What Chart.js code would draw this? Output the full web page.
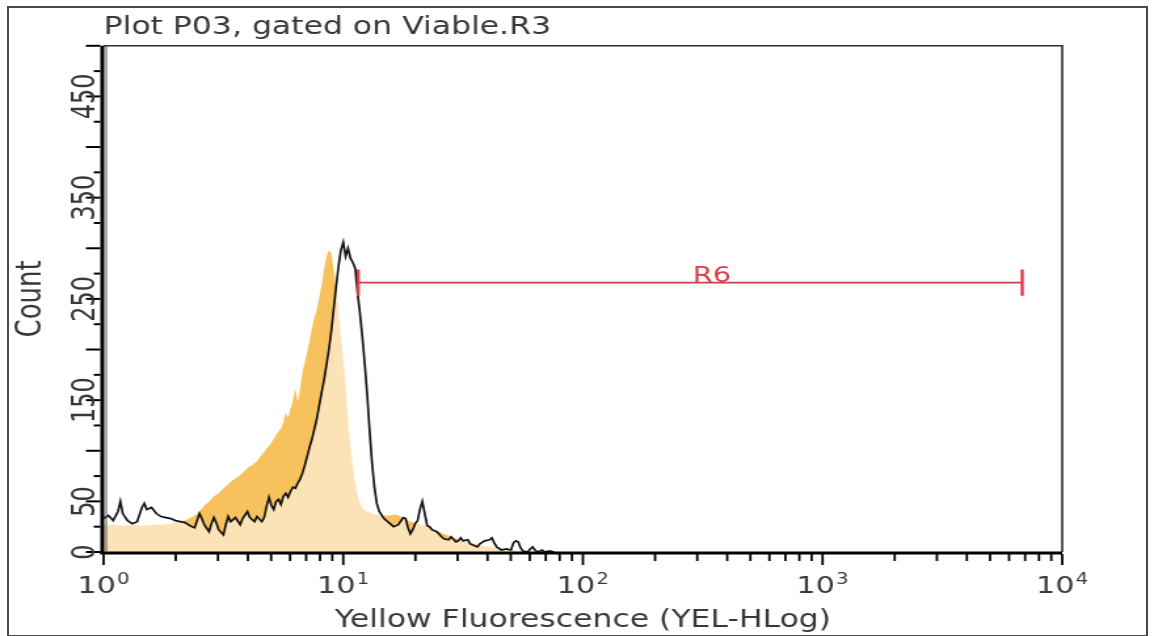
<!DOCTYPE html>
<html lang="en">
<head>
<meta charset="UTF-8">
<title>Plot P03, gated on Viable.R3</title>
<script src="https://cdn.jsdelivr.net/npm/chart.js"></script>
<style>
  body { margin: 0; background: #fff; }
  #wrap { position: relative; width: 1154px; height: 636px; overflow: hidden; }
  #histo { position: absolute; left: 0; top: 0; }
  #frame { position: absolute; left: 7px; top: 6px; width: 1137px; height: 627px; border: 2px solid #4a4a4a; pointer-events: none; }
</style>
</head>
<body>
<div id="wrap">
  <!-- drawn at 880 wide, shown at 1154 (the plot is stretched sideways) -->
  <canvas id="histo" width="880" height="636" style="width:1154px;height:636px"></canvas>
  <div id="frame"></div>
</div>
<script>
// stained sample (black outline)
const fluorSample = [1.000, 1.047, 1.096, 1.148, 1.175, 1.202, 1.259, 1.318, 1.380, 1.445, 1.479, 1.514,
  1.585, 1.660, 1.738, 1.820, 1.905, 1.995, 2.089, 2.188, 2.291, 2.399, 2.455, 2.512, 2.570, 2.630,
  2.754, 2.818, 2.884, 2.951, 3.020, 3.162, 3.236, 3.311, 3.388, 3.548, 3.715, 3.802, 3.981, 4.074,
  4.266, 4.365, 4.571, 4.677, 4.786, 4.898, 5.012, 5.129, 5.248, 5.370, 5.495, 5.623, 5.754, 5.888,
  6.026, 6.166, 6.310, 6.457, 6.607, 6.761, 6.918, 7.079, 7.244, 7.413, 7.586, 7.762, 7.943, 8.128,
  8.318, 8.511, 8.710, 8.913, 9.120, 9.333, 9.550, 9.772, 10.00, 10.23, 10.47, 10.72, 10.96, 11.22,
  11.48, 11.75, 12.02, 12.30, 12.59, 12.88, 13.18, 13.49, 13.80, 14.13, 14.79, 15.49, 16.22, 16.98,
  17.78, 18.20, 18.62, 19.05, 19.50, 19.95, 20.42, 20.89, 21.38, 21.88, 22.39, 22.91, 23.44, 24.55,
  25.70, 26.30, 27.54, 28.18, 29.51, 30.20, 30.90, 31.62, 33.11, 33.88, 35.48, 36.31, 37.15, 38.90,
  40.74, 41.69, 42.66, 43.65, 45.71, 47.86, 50.12, 51.29, 52.48, 53.70, 54.95, 56.23, 58.88, 60.26,
  61.66, 63.10, 64.57, 67.61, 69.18, 72.44, 75.86];
const countSample = [33, 36, 31, 40, 50, 38, 31, 28, 30, 44, 48, 42,
  44, 38, 35, 34, 33, 31, 30, 29, 26, 24, 31, 38, 33, 27,
  20, 28, 34, 29, 22, 17, 27, 35, 30, 34, 27, 33, 40, 34,
  30, 35, 30, 34, 45, 54, 46, 42, 50, 52, 47, 55, 58, 54,
  60, 64, 63, 68, 72, 78, 86, 95, 104, 112, 122, 132, 145, 158,
  170, 185, 200, 218, 240, 262, 282, 298, 306, 292, 300, 290, 286, 280,
  255, 235, 212, 185, 155, 120, 88, 64, 48, 40, 33, 29, 25, 27,
  34, 33, 24, 18, 22, 28, 31, 42, 50, 38, 26, 25, 22, 20,
  15, 13, 12, 15, 10, 11, 14, 11, 12, 8, 6, 5, 8, 11,
  12, 14, 9, 5, 2, 3, 2, 9, 11, 10, 4, 1, 0, 3,
  5, 2, 0, 2, 0, 1, 0];

// unstained control (orange fill)
const fluorControl = [1.000, 1.096, 1.202, 1.318, 1.445, 1.585, 1.738, 1.905, 2.089, 2.239, 2.399, 2.512,
  2.630, 2.754, 2.884, 3.020, 3.162, 3.311, 3.467, 3.631, 3.802, 3.981, 4.169, 4.365, 4.571, 4.786,
  5.012, 5.248, 5.495, 5.623, 5.754, 5.888, 6.026, 6.166, 6.310, 6.457, 6.607, 6.761, 6.918, 7.079,
  7.244, 7.413, 7.586, 7.762, 7.943, 8.128, 8.318, 8.511, 8.710, 8.913, 9.120, 9.333, 9.550, 9.772,
  10.00, 10.23, 10.47, 10.72, 10.96, 11.22, 11.48, 11.75, 12.02, 12.59, 13.49, 14.45, 15.49, 16.60,
  17.38, 18.20, 19.05, 20.42, 21.88, 23.44, 25.12, 26.92, 28.84, 30.90, 33.11, 35.48, 38.02, 40.74,
  43.65, 46.77, 50.12, 54.95, 60.26];
const countControl = [26, 27, 26, 27, 26, 27, 27, 28, 30, 32, 36, 40,
  46, 50, 55, 58, 63, 67, 71, 74, 78, 83, 86, 90, 96, 102,
  108, 116, 122, 128, 138, 132, 142, 150, 162, 148, 162, 178, 188, 198,
  210, 222, 232, 240, 252, 264, 280, 292, 298, 295, 280, 262, 240, 215,
  190, 165, 130, 105, 85, 68, 56, 48, 43, 40, 37, 36, 36, 37,
  35, 32, 30, 28, 26, 23, 20, 17, 14, 12, 10, 8, 6, 5,
  4, 3, 2, 1, 0];

// R6 marker region
const gateName = 'R6';
const gateFrom = 11.55;
const gateTo = 6810;
const gateCount = 266;
const gateTickHalf = 13;
const gateLabelAt = 345;

// axes
const yMax = 500;
const yStep = 25;
const yTickLabels = [0, 50, 150, 250, 350, 450];
const xTickValues = [1, 10, 100, 1000, 10000];
const xTickExponents = ['0', '1', '2', '3', '4'];

const FONT = 'DejaVu Sans, Verdana, sans-serif';
const TEXT = '#383838';
const RED = '#d63d48';

const pts = (xs, ys) => xs.map((x, i) => ({ x: x, y: ys[i] }));

const gateLine = [{ x: gateFrom, y: gateCount }, { x: gateTo, y: gateCount }];
const gateEnds = [
  { x: gateFrom, y: gateCount - gateTickHalf }, { x: gateFrom, y: gateCount + gateTickHalf },
  { x: gateTo, y: null },
  { x: gateTo, y: gateCount - gateTickHalf }, { x: gateTo, y: gateCount + gateTickHalf }
];

// frame, tick marks, decade labels, rotated count labels and the region name
const plotDecor = {
  id: 'plotDecor',
  afterDatasetsDraw(chart) {
    const { ctx, chartArea: a, scales: { x, y } } = chart;
    ctx.save();
    ctx.lineCap = 'butt';

    // top and right edges of the plot box
    ctx.strokeStyle = '#2e2e2e';
    ctx.lineWidth = 1.6;
    ctx.beginPath();
    ctx.moveTo(a.left, a.top);
    ctx.lineTo(a.right, a.top);
    ctx.lineTo(a.right, a.bottom);
    ctx.stroke();

    // heavy left and bottom axes
    ctx.strokeStyle = '#000';
    ctx.lineWidth = 3;
    ctx.beginPath();
    ctx.moveTo(a.left - 1, a.top);
    ctx.lineTo(a.left - 1, a.bottom + 2);
    ctx.stroke();
    ctx.beginPath();
    ctx.moveTo(a.left - 2.5, a.bottom + 1);
    ctx.lineTo(a.right, a.bottom + 1);
    ctx.stroke();
    ctx.strokeStyle = '#555';
    ctx.lineWidth = 1;
    ctx.beginPath();
    ctx.moveTo(a.left + 2, a.top);
    ctx.lineTo(a.left + 2, a.bottom);
    ctx.stroke();

    // y tick marks
    ctx.strokeStyle = '#000';
    ctx.lineWidth = 2;
    for (let v = 0; v <= yMax; v += yStep) {
      const py = y.getPixelForValue(v);
      const len = v % 50 === 0 ? 11 : 5;
      ctx.beginPath();
      ctx.moveTo(a.left - 2.5 - len, py);
      ctx.lineTo(a.left - 2.5, py);
      ctx.stroke();
    }

    // x tick marks, 1..9 in every decade
    ctx.lineWidth = 1.8;
    for (let d = 0; d <= 4; d++) {
      for (let m = 1; m <= 9; m++) {
        const v = m * Math.pow(10, d);
        if (v > x.max) break;
        const px = x.getPixelForValue(v);
        const len = m === 1 ? 11 : 7;
        ctx.beginPath();
        ctx.moveTo(px, a.bottom + 2);
        ctx.lineTo(px, a.bottom + 2 + len);
        ctx.stroke();
      }
    }

    // decade labels: 10 with a raised exponent
    ctx.fillStyle = TEXT;
    ctx.textBaseline = 'alphabetic';
    ctx.textAlign = 'left';
    xTickValues.forEach((v, i) => {
      const px = x.getPixelForValue(v);
      ctx.font = '23px ' + FONT;
      const wBase = ctx.measureText('10').width;
      ctx.font = '15px ' + FONT;
      const wExp = ctx.measureText(xTickExponents[i]).width;
      const left = px - (wBase + 1 + wExp) / 2;
      ctx.font = '23px ' + FONT;
      ctx.fillText('10', left, a.bottom + 41);
      ctx.font = '15px ' + FONT;
      ctx.fillText(xTickExponents[i], left + wBase + 1, a.bottom + 32);
    });

    // y tick labels, written upwards
    ctx.font = '24px ' + FONT;
    ctx.textAlign = 'center';
    yTickLabels.forEach(v => {
      ctx.save();
      ctx.translate(71.5, y.getPixelForValue(v));
      ctx.rotate(-Math.PI / 2);
      ctx.fillText(String(v), 0, 0);
      ctx.restore();
    });

    // region name above the marker line
    ctx.fillStyle = RED;
    ctx.font = '22px ' + FONT;
    ctx.fillText(gateName, x.getPixelForValue(gateLabelAt), y.getPixelForValue(gateCount) - 1);
    ctx.restore();
  }
};

new Chart(document.getElementById('histo'), {
  type: 'line',
  data: {
    datasets: [
      { label: gateName, data: gateLine, borderColor: RED, borderWidth: 1.8, pointRadius: 0, fill: false, order: 0 },
      { label: gateName + ' ends', data: gateEnds, borderColor: RED, borderWidth: 2.4, pointRadius: 0, fill: false, spanGaps: false, order: 0 },
      { label: 'Sample', data: pts(fluorSample, countSample), borderColor: '#141414', borderWidth: 1.7,
        backgroundColor: 'rgba(255,255,255,0.55)', fill: 'origin', pointRadius: 0, tension: 0, order: 1 },
      { label: 'Control', data: pts(fluorControl, countControl), borderColor: 'rgba(0,0,0,0)', borderWidth: 1,
        backgroundColor: '#f7c25e', fill: 'origin', pointRadius: 0, tension: 0, order: 2 }
    ]
  },
  options: {
    responsive: false,
    maintainAspectRatio: false,
    devicePixelRatio: 1,
    animation: false,
    events: [],
    layout: { padding: { left: 0, top: 0, right: 70, bottom: 0 } },
    plugins: {
      legend: { display: false },
      tooltip: { enabled: false },
      title: {
        display: true,
        text: 'Plot P03, gated on Viable.R3',
        align: 'start',
        fullSize: false,
        color: TEXT,
        font: { family: FONT, size: 24, weight: 'normal' },
        padding: { top: 13, bottom: 4 }
      }
    },
    scales: {
      x: {
        type: 'logarithmic',
        min: 1,
        max: 10000,
        afterBuildTicks: s => { s.ticks = xTickValues.map(v => ({ value: v })); },
        afterFit: s => { s.height = 84; },
        grid: { display: false, drawTicks: false },
        border: { display: false },
        ticks: { display: false },
        title: {
          display: true,
          text: 'Yellow Fluorescence (YEL-HLog)',
          color: TEXT,
          font: { family: FONT, size: 24 },
          padding: { top: 0, bottom: 1 }
        }
      },
      y: {
        min: 0,
        max: yMax,
        afterFit: s => { s.width = 79; },
        grid: { display: false, drawTicks: false },
        border: { display: false },
        ticks: { display: false, stepSize: yStep },
        title: {
          display: true,
          text: 'Count',
          color: TEXT,
          font: { family: FONT, size: 26 },
          padding: { top: 9, bottom: 0 }
        }
      }
    }
  },
  plugins: [plotDecor]
});
</script>
</body>
</html>
